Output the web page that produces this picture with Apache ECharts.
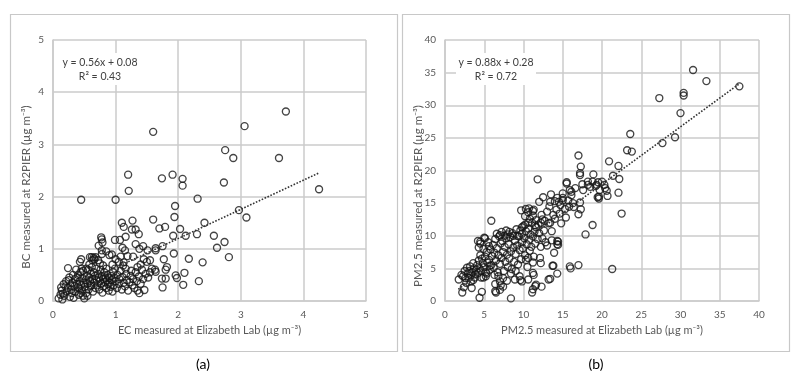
<!DOCTYPE html>
<html>
<head>
<meta charset="utf-8">
<script src="https://cdn.jsdelivr.net/npm/echarts@6/dist/echarts.min.js"></script>
<style>
html,body{margin:0;padding:0;background:#fff;}
#c{width:800px;height:378px;}
</style>
</head>
<body>
<div id="c"></div>
<script>
// Panel (a): EC (x) vs BC (y), µg m-3
const ecBcPoints = [
[1.60,3.24],[3.72,3.63],[3.06,3.35],[2.75,2.89],[2.88,2.74],[3.61,2.74],[1.20,2.42],[1.74,2.35],[1.91,2.42],[2.07,2.34],[2.07,2.21],[2.73,2.27],[4.25,2.14],[1.21,2.11],
[0.45,1.94],[1.00,1.94],[2.31,1.96],[1.95,1.82],[1.94,1.61],[2.97,1.74],[3.09,1.60],[2.42,1.50],[1.60,1.56],[1.10,1.50],[1.27,1.54],[1.13,1.42],[1.26,1.37],[1.32,1.37],[1.37,1.28],[1.70,1.39],[1.79,1.42],[2.03,1.38],[1.92,1.25],[2.12,1.25],[2.30,1.28],[2.57,1.25],[2.62,1.02],[2.74,1.13],[2.81,0.84],[2.39,0.74],[2.17,0.81],[2.33,0.38],[2.08,0.31],[2.10,0.54],[1.96,0.49],[1.98,0.44],[1.93,0.91],[1.75,1.05],[1.64,0.97],[1.64,1.01],[1.77,0.80],[1.82,0.65],[1.80,0.60],[1.80,0.43],[1.75,0.26],[1.74,0.43],[1.63,0.60],[1.64,0.56],[1.51,0.97],[1.44,1.05],[1.38,1.00],[1.32,1.09],[1.28,0.85],[1.16,1.23],[1.07,1.17],[0.99,1.17],[1.11,1.02],[1.15,0.97],[1.19,0.86],[1.13,0.74],[1.08,0.85],[0.77,1.22],[0.78,1.18],[0.79,1.12],[0.73,1.06],[0.78,0.97],[0.85,0.95],[0.90,0.88],[0.94,0.89],[0.59,0.84],[0.62,0.84],[0.65,0.83],[0.68,0.84],[0.43,0.75],[0.45,0.80],[0.24,0.63],
[0.09,0.05],[0.15,0.03],[0.12,0.12],[0.14,0.20],[0.18,0.10],[0.20,0.28],[0.17,0.32],[0.22,0.18],[0.25,0.40],[0.24,0.25],[0.27,0.08],[0.28,0.30],[0.30,0.15],[0.29,0.22],[0.21,0.38],[0.26,0.45],[0.31,0.35],[0.33,0.06],[0.16,0.14],[0.13,0.26],
[0.34,0.28],[0.35,0.42],[0.36,0.18],[0.38,0.33],[0.40,0.50],[0.41,0.12],[0.42,0.24],[0.43,0.38],[0.44,0.55],[0.45,0.30],[0.46,0.20],[0.47,0.44],[0.48,0.10],[0.49,0.35],[0.50,0.05],[0.37,0.60],[0.39,0.45],[0.44,0.15],[0.48,0.58],[0.32,0.50],[0.40,0.26],[0.46,0.62],
[0.51,0.27],[0.52,0.40],[0.53,0.15],[0.54,0.48],[0.55,0.33],[0.56,0.60],[0.57,0.22],[0.58,0.45],[0.59,0.38],[0.60,0.52],[0.61,0.30],[0.62,0.65],[0.63,0.42],[0.64,0.18],[0.65,0.55],[0.66,0.35],[0.67,0.48],[0.68,0.25],[0.69,0.62],[0.70,0.40],[0.55,0.10],[0.58,0.70],[0.63,0.78],[0.66,0.80],[0.53,0.62],[0.60,0.28],
[0.71,0.30],[0.72,0.52],[0.73,0.45],[0.74,0.22],[0.75,0.38],[0.76,0.60],[0.77,0.33],[0.78,0.48],[0.79,0.16],[0.80,0.42],[0.81,0.28],[0.82,0.55],[0.83,0.36],[0.84,0.45],[0.85,0.25],[0.86,0.40],[0.87,0.50],[0.88,0.32],[0.89,0.20],[0.90,0.44],[0.75,0.72],[0.80,0.68],[0.85,0.62],[0.72,0.78],[0.78,0.90],
[0.91,0.35],[0.92,0.27],[0.93,0.48],[0.94,0.40],[0.95,0.18],[0.96,0.55],[0.97,0.30],[0.98,0.45],[0.99,0.62],[1.00,0.38],[1.02,0.25],[1.03,0.50],[1.05,0.33],[1.06,0.42],[1.08,0.58],[1.10,0.22],[1.11,0.46],[1.13,0.35],[1.15,0.28],[1.17,0.52],[1.18,0.40],[1.20,0.20],[0.95,0.70],[1.00,0.80],[1.05,0.75],[1.12,0.68],[1.16,0.62],
[1.22,0.36],[1.24,0.48],[1.25,0.58],[1.27,0.30],[1.28,0.42],[1.30,0.25],[1.32,0.55],[1.34,0.38],[1.35,0.20],[1.37,0.47],[1.38,0.15],[1.40,0.33],[1.42,0.60],[1.44,0.42],[1.46,0.21],[1.48,0.52],[1.50,0.75],[1.52,0.45],[1.55,0.55],[1.58,0.62],[1.40,0.70],[1.45,0.80],[1.55,0.78],[1.35,0.65]
];
// Panel (a) trend line endpoints
const ecBcTrend = [[0.09,0.13],[4.26,2.46]];

// Panel (b): PM2.5 Elizabeth Lab (x) vs PM2.5 R2PIER (y)
const pmPoints = [
[31.6,35.4],[33.3,33.7],[37.5,32.9],[30.4,31.9],[30.4,31.5],[27.3,31.1],[30.0,28.8],[29.3,25.1],[27.7,24.2],[23.6,25.6],[23.2,23.1],[23.8,22.9],[17.0,22.3],[17.3,20.6],[17.2,19.6],[17.2,19.3],[20.9,21.4],[22.1,20.7],[22.2,18.7],[21.4,19.2],[18.9,19.4],[18.2,18.3],[19.5,18.2],[15.5,18.2],[15.5,18.0],[11.8,18.65],
[17.5,17.9],[16.6,17.3],[15.9,17.0],[16.1,16.75],[18.5,17.5],[19.3,17.8],[19.7,17.0],[20.4,17.3],[20.6,16.9],[19.45,15.9],[20.7,16.1],[22.1,16.6],[22.5,13.4],[18.8,11.65],[17.9,10.2],[12.5,15.9],[12.0,15.2],[13.5,16.35],[13.4,15.2],[14.0,15.3],[14.5,15.2],[15.0,15.4],[14.7,14.7],[15.8,14.45],[16.4,14.4],[17.2,15.1],[17.0,13.3],[17.3,14.05],
[9.7,13.9],[10.3,14.1],[10.7,14.2],[11.2,13.8],[10.6,13.6],[11.2,13.1],[11.6,12.4],[11.9,11.7],[12.2,12.0],[12.4,12.5],[11.5,11.6],[13.2,11.9],[14.4,9.1],[14.4,8.6],[13.9,7.4],[12.2,5.8],[13.8,5.4],[15.9,5.3],[17.0,5.5],[21.3,4.9],
[1.75,3.3],[2.1,4.0],[2.5,4.6],[2.8,5.1],[2.2,1.3],[2.4,2.1],[4.4,0.5],[4.7,1.4],[8.4,0.4],[5.9,12.3],[7.8,10.8],[8.2,10.6],[8.7,10.0],[4.5,9.1],[4.5,8.8],[5.1,9.6],[7.0,10.1],[7.6,10.0],[9.8,11.3],[10.2,11.7],[10.6,12.0],[12.3,13.2],[13.4,12.0],[13.6,9.3],[14.3,9.2],[14.3,8.7],[13.7,5.4],[14.3,4.2],[13.2,3.3],[13.4,3.4],[11.5,2.3],[11.6,2.5],[11.1,1.3],[11.2,1.8],[12.3,2.2],[10.6,3.3],[11.2,4.3],[11.3,4.0],[11.2,5.9],[12.1,6.6],[10.3,6.3],[10.6,6.6],[9.8,3.0],[9.6,3.2],[8.9,3.3],[7.9,3.1],[7.0,3.0],[7.1,2.4],[7.4,2.2],[6.4,1.5],[7.0,1.7],[6.4,2.6],[6.5,1.3],[4.9,3.6],[5.3,4.2],[5.7,5.4],[16.0,5.0],[3.4,2.0],[3.0,3.5],[3.6,3.2],
[19.6,15.7],[19.6,16.0],[17.6,17.0],[18.2,17.8],[18.8,18.3],[19.2,17.6],[20.0,18.3],[20.3,17.8],
[2.3,3.8],[2.6,3.5],[2.9,4.2],[3.1,4.6],[3.3,3.9],[3.5,4.4],[3.7,5.0],[3.9,4.1],[3.2,5.3],[3.6,5.8],[3.8,3.6],[4.0,4.8],[2.7,2.8],[3.3,3.0],
[4.1,5.5],[4.2,4.3],[4.3,6.2],[4.4,5.0],[4.5,7.0],[4.6,4.6],[4.7,6.5],[4.8,5.8],[4.9,8.0],[5.0,5.2],[5.1,6.8],[5.2,4.4],[5.3,7.5],[5.4,5.9],[5.5,9.0],[5.6,6.3],[5.7,4.8],[5.8,7.9],[5.9,5.5],[6.0,6.9],[4.3,8.2],[4.2,9.2],[5.0,9.7],[5.2,3.8],[4.6,3.6],[5.6,8.4],
[6.1,8.6],[6.2,5.1],[6.3,7.4],[6.4,9.5],[6.5,6.2],[6.6,8.1],[6.7,4.4],[6.8,7.0],[6.9,9.9],[7.0,5.7],[7.1,8.8],[7.2,6.6],[7.3,9.2],[7.4,7.5],[7.5,4.6],[7.6,8.3],[7.7,6.0],[7.8,9.6],[7.9,7.1],[8.0,5.2],[6.3,4.0],[6.8,3.8],[7.4,3.5],[7.2,10.6],[6.6,10.3],
[8.1,8.7],[8.2,6.5],[8.3,9.8],[8.4,7.6],[8.5,4.9],[8.6,10.4],[8.7,8.2],[8.8,6.0],[8.9,9.3],[9.0,7.2],[9.1,11.0],[9.2,8.5],[9.3,5.6],[9.4,9.9],[9.5,7.8],[9.6,10.8],[9.7,6.4],[9.8,9.0],[9.9,8.1],[10.0,11.5],[8.4,4.2],[9.0,4.6],[9.5,3.8],[8.0,10.2],[9.2,10.0],[9.8,10.3],
[10.1,9.6],[10.2,7.0],[10.3,10.7],[10.4,8.7],[10.5,5.2],[10.6,11.1],[10.7,9.4],[10.8,7.7],[10.9,10.2],[11.0,8.3],[11.1,12.0],[11.2,9.9],[11.3,6.8],[11.4,10.6],[11.5,8.8],[11.6,11.3],[11.8,9.5],[12.0,10.4],[12.2,8.3],[12.4,9.6],[10.2,13.0],[10.8,12.6],[11.3,14.0],[12.6,10.8],[12.8,9.0],[13.0,8.5],
[12.7,12.3],[13.0,13.7],[13.3,14.5],[13.8,13.2],[14.2,14.0],[14.6,13.4],[15.0,15.8],[15.3,14.1],[15.7,15.4],[16.1,16.2],[15.4,12.8],[14.8,11.9],[14.0,12.6],[13.6,10.7],[16.3,15.0],[15.0,16.5],[14.3,15.8]
];
const pmTrend = [[1.7,1.8],[37.5,33.3]];

const ecTicksMax = 5, pmTicksMax = 40;
const labels = {
  aX: 'EC measured at Elizabeth Lab (\u00b5g m\u207b\u00b3)',
  aY: 'BC measured at R2PIER (\u00b5g m\u207b\u00b3)',
  bX: 'PM2.5 measured at Elizabeth Lab (\u00b5g m\u207b\u00b3)',
  bY: 'PM2.5 measured at R2PIER (\u00b5g m\u207b\u00b3)',
  aEq: 'y = 0.56x + 0.08', aR2: 'R\u00b2 = 0.43',
  bEq: 'y = 0.88x + 0.28', bR2: 'R\u00b2 = 0.72'
};

const FONT = 'Lato, "Open Sans", sans-serif';
const GRIDC = '#cbcbcb';
const gridLine = {show:true, lineStyle:{color:GRIDC, width:1.5}};
function xAxis(idx, max, interval, name){
  return {type:'value', gridIndex:idx, min:0, max:max, interval:interval,
    name:name, nameLocation:'middle', nameGap:24,
    nameTextStyle:{color:'#595959', fontSize:11, fontFamily:FONT},
    axisLine:{show:true, lineStyle:{color:GRIDC, width:1.5}}, axisTick:{show:false},
    axisLabel:{color:'#595959', fontSize:10, fontFamily:FONT, margin:9},
    splitLine:gridLine};
}
function yAxis(idx, max, interval){
  return {type:'value', gridIndex:idx, min:0, max:max, interval:interval,
    axisLine:{show:true, lineStyle:{color:GRIDC, width:1.5}}, axisTick:{show:false},
    axisLabel:{color:'#595959', fontSize:10, fontFamily:FONT, margin:9},
    splitLine:gridLine};
}
const markerStyle = {color:'rgba(0,0,0,0)', borderColor:'#151515', borderWidth:1.35};
const trendStyle = {color:'#333', width:1.6, type:'dotted'};

function eqBox(cx, y1, t1, t2){
  return {type:'group', children:[
    {type:'rect', shape:{x:cx-40, y:y1-10, width:80, height:32}, style:{fill:'#fff'}, z:100},
    {type:'text', x:cx, y:y1, z:101, style:{text:t1, fill:'#404040', font:'10.5px '+FONT, align:'center', verticalAlign:'middle'}},
    {type:'text', x:cx, y:y1+14, z:101, style:{text:t2, fill:'#404040', font:'10.5px '+FONT, align:'center', verticalAlign:'middle'}}
  ]};
}
function yTitle(x, y, t){
  return {type:'text', x:x, y:y, rotation:Math.PI/2,
    style:{text:t, fill:'#595959', font:'11.5px '+FONT, align:'center', verticalAlign:'middle'}};
}

const chart = echarts.init(document.getElementById('c'), null, {renderer:'canvas'});
chart.setOption({
  animation:false,
  backgroundColor:'#fff',
  grid:[
    {left:53, top:40, width:313, height:261},
    {left:445, top:40, width:314, height:261}
  ],
  xAxis:[xAxis(0, ecTicksMax, 1, labels.aX), xAxis(1, pmTicksMax, 5, labels.bX)],
  yAxis:[yAxis(0, ecTicksMax, 1), yAxis(1, pmTicksMax, 5)],
  series:[
    {type:'scatter', xAxisIndex:0, yAxisIndex:0, data:ecBcPoints, symbol:'circle', symbolSize:7, itemStyle:markerStyle, z:3},
    {type:'line', xAxisIndex:0, yAxisIndex:0, data:ecBcTrend, symbol:'none', lineStyle:trendStyle, z:4},
    {type:'scatter', xAxisIndex:1, yAxisIndex:1, data:pmPoints, symbol:'circle', symbolSize:7, itemStyle:markerStyle, z:3},
    {type:'line', xAxisIndex:1, yAxisIndex:1, data:pmTrend, symbol:'none', lineStyle:trendStyle, z:4}
  ],
  graphic:[
    {type:'rect', shape:{x:10.5, y:14.5, width:387, height:337}, style:{fill:'none', stroke:'#c8c8c8', lineWidth:1.2}, z:0},
    {type:'rect', shape:{x:402.5, y:14.5, width:387, height:337}, style:{fill:'none', stroke:'#c8c8c8', lineWidth:1.2}, z:0},
    eqBox(100, 63, labels.aEq, labels.aR2),
    eqBox(496, 63, labels.bEq, labels.bR2),
    yTitle(26, 187, labels.aY),
    yTitle(418, 196, labels.bY),
    {type:'text', x:203, y:364, style:{text:'(a)', fill:'#000', font:'14px '+FONT, align:'center', verticalAlign:'middle'}},
    {type:'text', x:596, y:364, style:{text:'(b)', fill:'#000', font:'14px '+FONT, align:'center', verticalAlign:'middle'}}
  ]
});
</script>
</body>
</html>
